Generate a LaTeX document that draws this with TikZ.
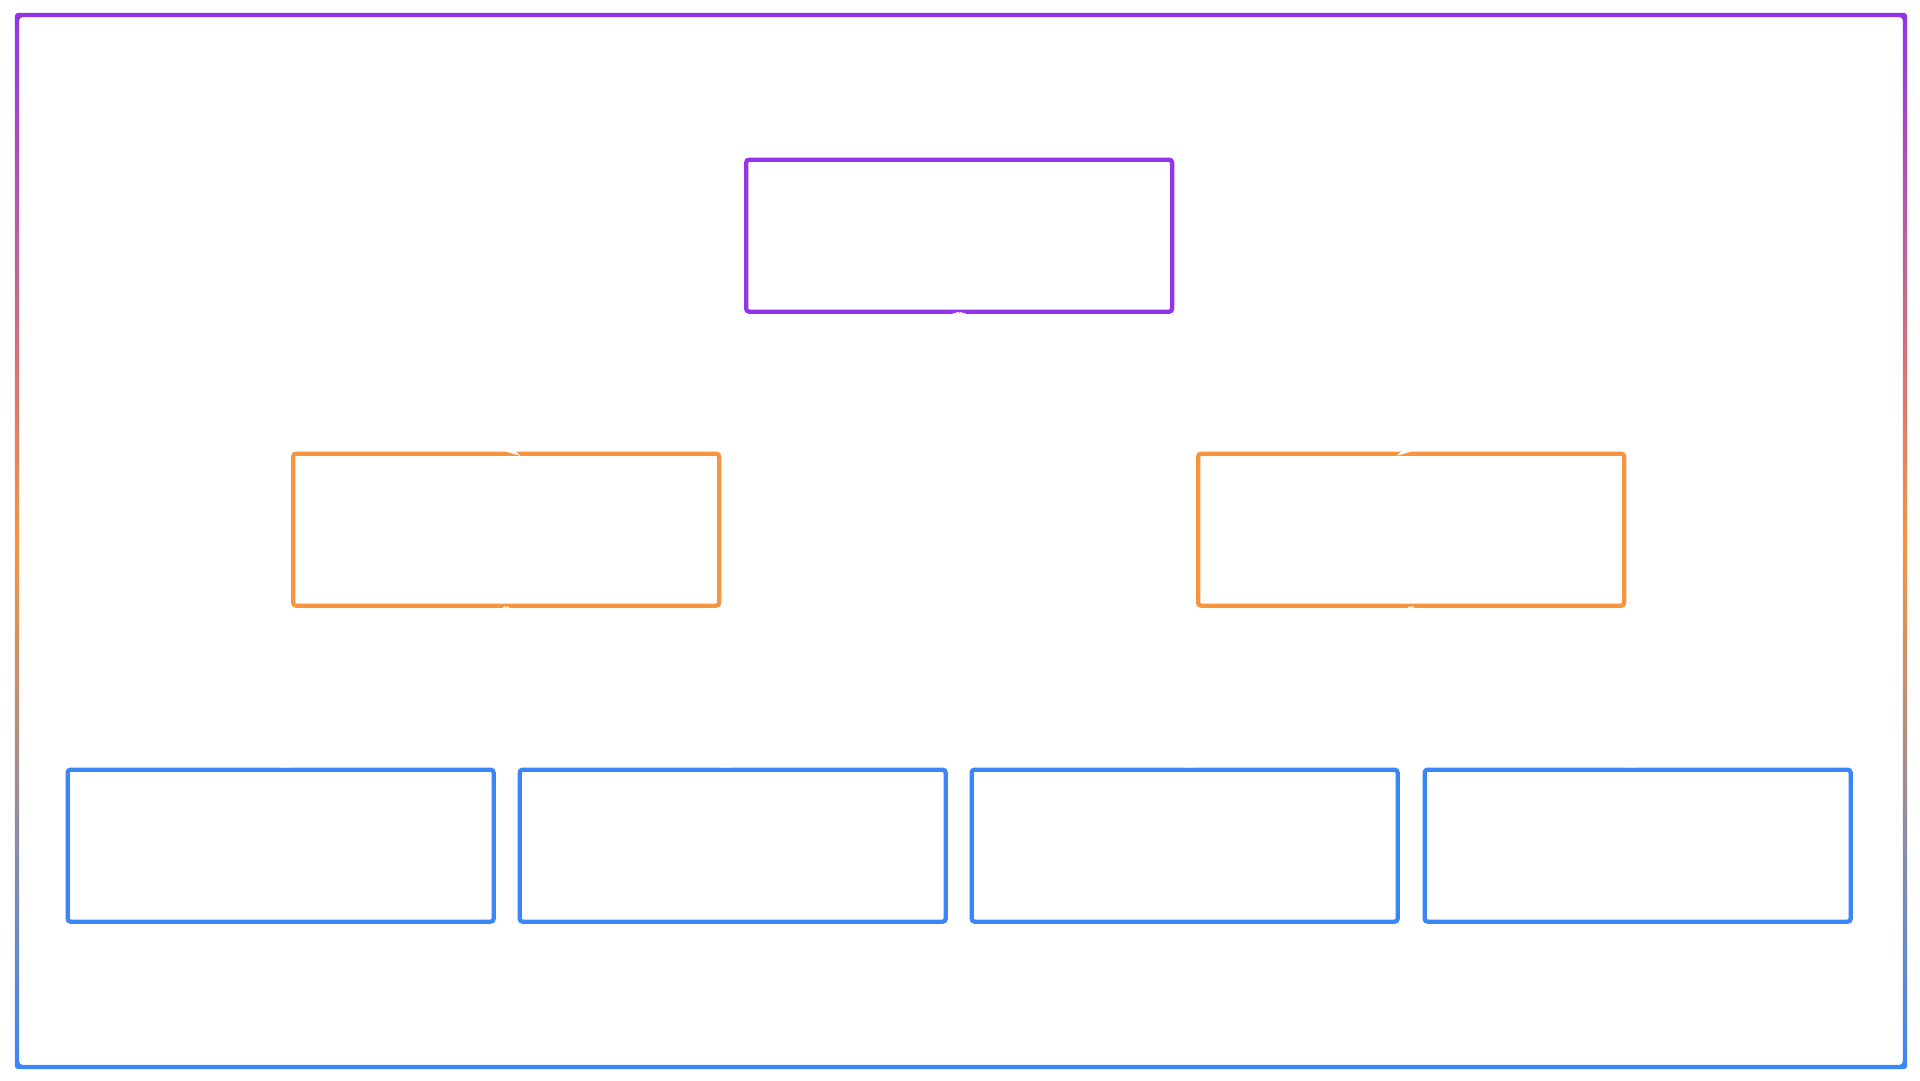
\documentclass[tikz,border=0pt]{standalone}
\usetikzlibrary{arrows.meta}
\definecolor{cpurple}{HTML}{9333EA}
\definecolor{corange}{HTML}{F7943E}
\definecolor{cblue}{HTML}{3B86F7}
\tikzset{
  boxbase/.style={draw, line width=4.3pt, rounded corners=3pt, minimum width=426pt, minimum height=152pt, inner sep=0pt, anchor=north west},
  rootbox/.style={boxbase, draw=cpurple},
  midbox/.style={boxbase, draw=corange},
  leafbox/.style={boxbase, draw=cblue},
  link/.style={draw=white, line width=4pt, -{Stealth[length=12pt,width=16pt]}}
}
\begin{document}
\begin{tikzpicture}[x=1pt,y=-1pt]
\useasboundingbox (0,0) rectangle (1920,1080);
\fill[white] (0,0) rectangle (1920,1080);
% outer gradient frame
\shade[top color=cpurple, bottom color=cblue, middle color=corange, even odd rule, rounded corners=3.5pt]
  (14.8,12.8) rectangle (1907.2,1069.2)
  (19.1,17.1) rectangle (1902.9,1064.9);
\node[rootbox] (root) at (744,157.5) {};
\node[midbox] (ml) at (291,451.5) {};
\node[midbox] (mr) at (1196,451.5) {};
\node[leafbox] (l1) at (65.5,767.5) {};
\node[leafbox] (l2) at (517.5,767.5) {};
\node[leafbox] (l3) at (969.5,767.5) {};
\node[leafbox] (l4) at (1422.5,767.5) {};
\draw[link] (root.south) -- (ml.north);
\draw[link] (root.south) -- (mr.north);
\draw[link] (ml.south) -- (l1.north);
\draw[link] (ml.south) -- (l2.north);
\draw[link] (mr.south) -- (l3.north);
\draw[link] (mr.south) -- (l4.north);
\end{tikzpicture}
\end{document}
